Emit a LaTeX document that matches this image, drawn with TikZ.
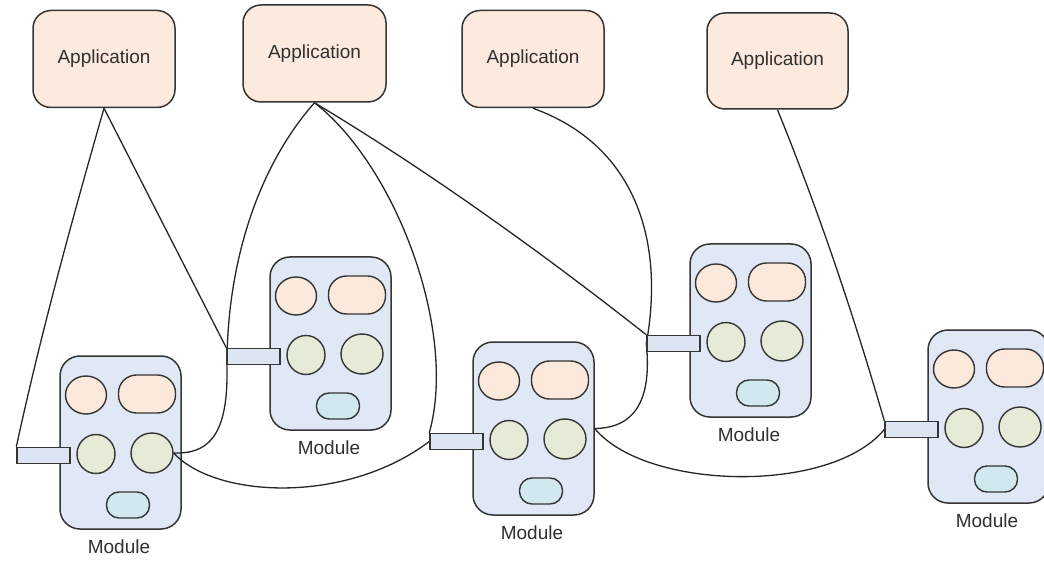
\documentclass[tikz,border=0pt]{standalone}
\usepackage{fontspec}
\setmainfont{Liberation Sans}
\usetikzlibrary{shapes.geometric}
\definecolor{appfill}{HTML}{FCEADE}
\definecolor{modfill}{HTML}{E0E8F5}
\definecolor{pkfill}{HTML}{FCE9DC}
\definecolor{grfill}{HTML}{E6EBD7}
\definecolor{cyfill}{HTML}{D0E8EE}
\definecolor{portfill}{HTML}{DDE5F2}
\definecolor{edge}{HTML}{353535}
\definecolor{txt}{HTML}{303030}
\pgfdeclarelayer{back}
\pgfdeclarelayer{front}
\pgfsetlayers{back,main,front}
\tikzset{
 appbox/.style={draw=edge, line width=1.5pt, fill=appfill, rounded corners=18pt, minimum width=142pt, minimum height=97pt, inner sep=0pt, font=\fontsize{19}{22}\selectfont, text=txt},
 modbox/.style={draw=edge, line width=1.5pt, fill=modfill, rounded corners=20pt, minimum width=121pt, minimum height=173pt, inner sep=0pt},
 blob/.style={ellipse, draw=edge, line width=1.4pt, inner sep=0pt},
 pill/.style={rectangle, draw=edge, line width=1.4pt, inner sep=0pt},
 portbox/.style={draw=edge, line width=1.4pt, fill=portfill, minimum width=53pt, minimum height=16pt, inner sep=0pt},
 modlabel/.style={font=\fontsize{19}{22}\selectfont, text=txt, anchor=mid, inner sep=0pt},
 wire/.style={draw=black!85, line width=1.3pt},
}
\newcommand\mymodule[3]{%
 \begin{pgfonlayer}{back}
 \node[modbox] (#1) at (#2+60.5,#3+86.5) {};
 \node[blob, fill=pkfill, minimum width=41pt, minimum height=38pt] (#1tl) at (#2+26,#3+39) {};
 \node[pill, fill=pkfill, rounded corners=18pt, minimum width=57pt, minimum height=38pt] (#1tr) at (#2+87,#3+38) {};
 \node[blob, fill=grfill, minimum width=38pt, minimum height=39pt] (#1ml) at (#2+36,#3+98) {};
 \node[blob, fill=grfill, minimum width=42pt, minimum height=40pt] (#1mr) at (#2+92,#3+97) {};
 \node[pill, fill=cyfill, rounded corners=12.5pt, minimum width=43pt, minimum height=26pt] (#1bt) at (#2+68,#3+149) {};
 \node[modlabel] (#1lab) at (#2+59,#3+195) {Module};
 \end{pgfonlayer}
 \begin{pgfonlayer}{front}
 \node[portbox] (#1p) at (#2-16.5,#3+99.5) {};
 \end{pgfonlayer}
}
\begin{document}
\begin{tikzpicture}[x=1pt,y=-1pt]
\useasboundingbox (0,0) rectangle (1044,561);
\begin{pgfonlayer}{back}
\fill[white] (0,0) rectangle (1044,561);
\node[appbox] (a1) at (104,59) {\raisebox{-2pt}{Application}};
\node[appbox, minimum width=143pt] (a2) at (314.5,53.5) {Application};
\node[appbox] (a3) at (533,59) {\raisebox{-2pt}{Application}};
\node[appbox, minimum width=141pt, minimum height=96pt] (a4) at (777.5,61) {\raisebox{-2pt}{Application}};
\end{pgfonlayer}
\mymodule{m1}{60}{356}
\mymodule{m2}{270}{257}
\mymodule{m3}{473}{342}
\mymodule{m4}{690}{244}
\mymodule{m5}{928}{330}
\draw[wire] (a1.south) .. controls (72,220) and (41,333) .. (m1p.north west);
\draw[wire] (a1.south) -- (m2p.north west);
\draw[wire] (a2.south) .. controls (255,170) and (226,270) .. (227,370) .. controls (228,440) and (205,454) .. (m1mr.east);
\draw[wire] (a2.south) .. controls (395,165) and (458,330) .. (m3p.north west);
\draw[wire] (a2.south) .. controls (430,172) and (545,255) .. (m4p.north west);
\draw[wire] (a3.south) .. controls (635,145) and (665,240) .. (m4p.west) .. controls (652,400) and (635,428) .. (m3.east);
\draw[wire] (a4.south) .. controls (819,212) and (854,316) .. (m5p.north west);
\draw[wire] (m1mr.east) .. controls (215,498) and (345,505) .. (m3p.west);
\draw[wire] (m3.east) .. controls (645,490) and (830,495) .. (m5p.west);
\end{tikzpicture}
\end{document}
